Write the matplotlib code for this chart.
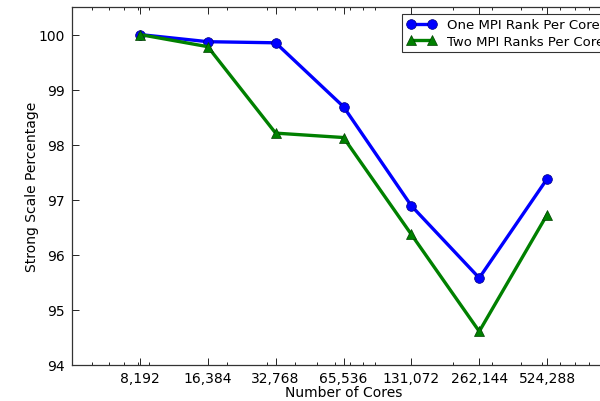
import matplotlib
matplotlib.use("Agg")
import matplotlib.pyplot as plt
from matplotlib.ticker import FixedLocator, FixedFormatter, LogLocator, NullFormatter

cores = [8192, 16384, 32768, 65536, 131072, 262144, 524288]
core_labels = ["8,192", "16,384", "32,768", "65,536", "131,072", "262,144", "524,288"]
one_rank = [100.0, 99.87, 99.85, 98.69, 96.89, 95.58, 97.38]
two_ranks = [100.0, 99.78, 98.21, 98.13, 96.37, 94.61, 96.73]

fig = plt.figure(figsize=(6.0, 4.02), dpi=100)
# axes runs past the right edge, as in the (cropped) original
ax = fig.add_axes([72 / 600, 36 / 402, 543 / 600, 358 / 402])

ax.plot(cores, one_rank, "-o", color="blue", lw=2.4, ms=7, mec="#000080", mew=0.5,
        label="One MPI Rank Per Core")
ax.plot(cores, two_ranks, "-^", color="green", lw=2.4, ms=7, mec="#004000", mew=0.5,
        label="Two MPI Ranks Per Core")

ax.set_xscale("log")
ax.set_xlim(4096, 1048576)
ax.set_ylim(94, 100.5)
ax.xaxis.set_major_locator(FixedLocator(cores))
ax.xaxis.set_major_formatter(FixedFormatter(core_labels))
ax.xaxis.set_minor_locator(LogLocator(base=10, subs=range(2, 10)))
ax.xaxis.set_minor_formatter(NullFormatter())
ax.set_yticks([94, 95, 96, 97, 98, 99, 100])

ax.tick_params(which="both", direction="in", top=True, right=True, labelsize=10)
ax.tick_params(axis="x", pad=4)
ax.tick_params(axis="y", pad=5)
ax.tick_params(which="major", length=5, width=0.6)
ax.tick_params(which="minor", length=2.5, width=0.6)
for s in ax.spines.values():
    s.set_linewidth(0.9)
    s.set_color("#333333")

ax.set_xlabel("Number of Cores", fontsize=10, labelpad=0)
ax.set_ylabel("Strong Scale Percentage", fontsize=10, labelpad=0)

leg = ax.legend(loc="upper right", fontsize=9.5, frameon=True, fancybox=False, numpoints=2,
                borderaxespad=0.5, handlelength=2.2, borderpad=0.35, labelspacing=0.25)
leg.get_frame().set_edgecolor("black")
leg.get_frame().set_linewidth(0.8)

fig.savefig("out.png", dpi=100)
